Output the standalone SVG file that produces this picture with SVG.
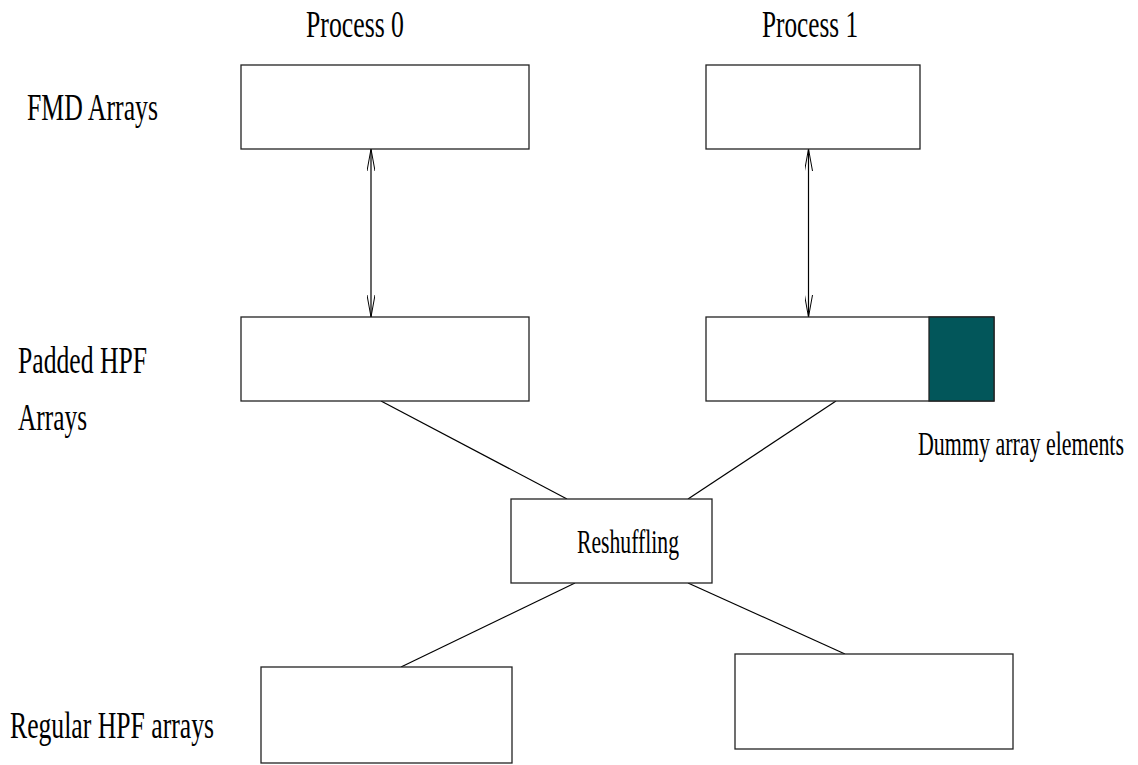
<svg xmlns="http://www.w3.org/2000/svg" width="1138" height="765" viewBox="0 0 1138 765">
  <style>
    .box { fill: #ffffff; stroke: #222222; stroke-width: 1.3; }
    .pad { fill: #02565a; stroke: #222222; stroke-width: 1.3; }
    .edge { fill: none; stroke: #000000; stroke-width: 1.2; }
    .lbl { font-family: "Liberation Serif", "Times New Roman", serif; fill: #000000; }
    .big { font-size: 38px; }
    .small { font-size: 33px; }
  </style>
  <defs>
    <marker id="tip" viewBox="0 0 22 8" refX="22" refY="4" markerWidth="22" markerHeight="8" markerUnits="userSpaceOnUse" orient="auto-start-reverse">
      <path d="M0,0 L22,4 L0,8" fill="none" stroke="#000000" stroke-width="1"/>
    </marker>
  </defs>

  <rect width="1138" height="765" fill="#ffffff"/>

  <!-- column and row headings -->
  <g id="headings">
    <text class="lbl big" x="306" y="37" textLength="98" lengthAdjust="spacingAndGlyphs">Process 0</text>
    <text class="lbl big" x="762" y="37" textLength="96" lengthAdjust="spacingAndGlyphs">Process 1</text>
    <text class="lbl big" x="27" y="120" textLength="131" lengthAdjust="spacingAndGlyphs">FMD Arrays</text>
    <text class="lbl big" x="18" y="373" textLength="129" lengthAdjust="spacingAndGlyphs">Padded HPF</text>
    <text class="lbl big" x="18" y="430" textLength="69" lengthAdjust="spacingAndGlyphs">Arrays</text>
    <text class="lbl big" x="10" y="738" textLength="204" lengthAdjust="spacingAndGlyphs">Regular HPF arrays</text>
  </g>

  <!-- connectors -->
  <g id="connectors">
    <line class="edge" x1="371" y1="149" x2="371" y2="317" marker-start="url(#tip)" marker-end="url(#tip)"/>
    <line class="edge" x1="808.5" y1="149" x2="808.5" y2="317" marker-start="url(#tip)" marker-end="url(#tip)"/>
    <line class="edge" x1="381" y1="401" x2="567" y2="499"/>
    <line class="edge" x1="836" y1="401" x2="688" y2="499"/>
    <line class="edge" x1="575" y1="583" x2="401" y2="667"/>
    <line class="edge" x1="688" y1="583" x2="845" y2="654"/>
  </g>

  <g id="fmd0">
    <rect class="box" x="241" y="65" width="288" height="84"/>
  </g>
  <g id="fmd1">
    <rect class="box" x="706" y="65" width="214" height="84"/>
  </g>
  <g id="padded0">
    <rect class="box" x="241" y="317" width="288" height="84"/>
  </g>
  <g id="padded1">
    <rect class="box" x="706" y="317" width="288" height="84"/>
    <rect class="pad" x="929" y="317" width="65" height="84"/>
    <text class="lbl small" x="918" y="455" textLength="206" lengthAdjust="spacingAndGlyphs">Dummy array elements</text>
  </g>
  <g id="reshuffling">
    <rect class="box" x="511" y="499" width="201" height="84"/>
    <text class="lbl small" x="577" y="553" textLength="102" lengthAdjust="spacingAndGlyphs">Reshuffling</text>
  </g>
  <g id="regular0">
    <rect class="box" x="261" y="667" width="251" height="96"/>
  </g>
  <g id="regular1">
    <rect class="box" x="735" y="654" width="278" height="95"/>
  </g>
</svg>
